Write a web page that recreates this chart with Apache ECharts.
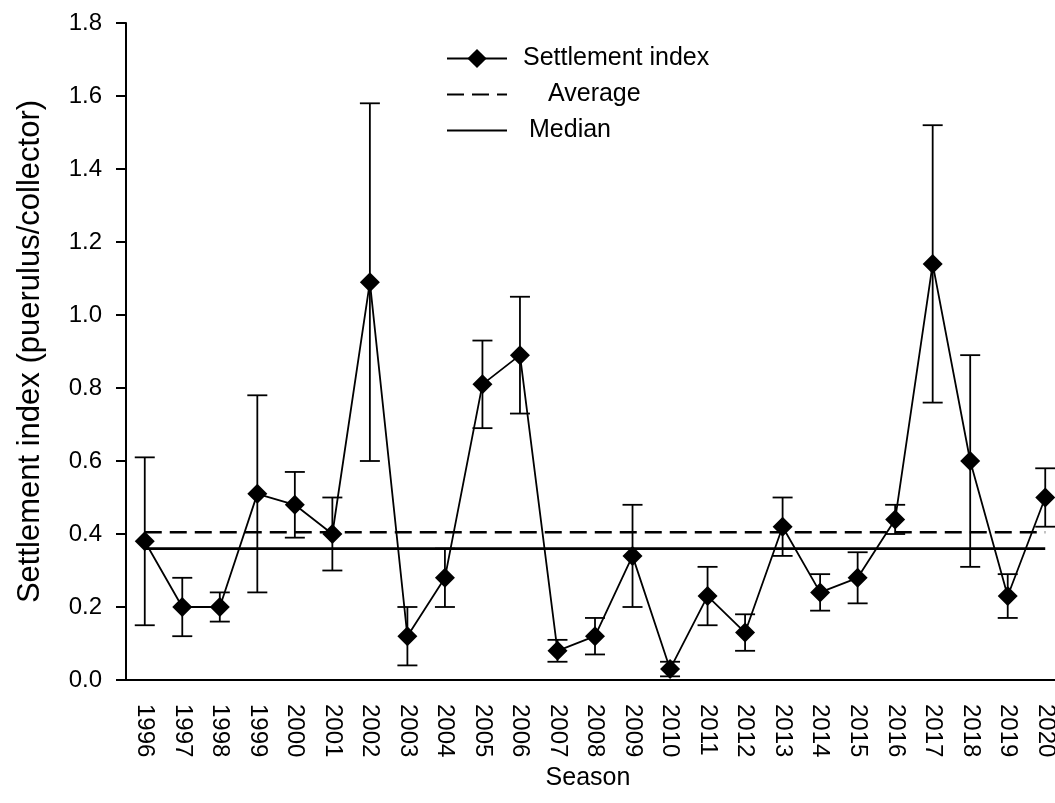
<!DOCTYPE html>
<html>
<head>
<meta charset="utf-8">
<script src="https://cdn.jsdelivr.net/npm/echarts@6/dist/echarts.min.js"></script>
<style>
html,body{margin:0;padding:0;background:#fff;}
#chart{width:1055px;height:803px;}
</style>
</head>
<body>
<div id="chart"></div>
<script>
const categories = ['1996','1997','1998','1999','2000','2001','2002','2003','2004','2005','2006','2007','2008','2009','2010','2011','2012','2013','2014','2015','2016','2017','2018','2019','2020'];
const settlement = [0.38,0.20,0.20,0.51,0.48,0.40,1.09,0.12,0.28,0.81,0.89,0.08,0.12,0.34,0.03,0.23,0.13,0.42,0.24,0.28,0.44,1.14,0.60,0.23,0.50];
const errLow  = [0.15,0.12,0.16,0.24,0.39,0.30,0.60,0.04,0.20,0.69,0.73,0.05,0.07,0.20,0.01,0.15,0.08,0.34,0.19,0.21,0.40,0.76,0.31,0.17,0.42];
const errHigh = [0.61,0.28,0.24,0.78,0.57,0.50,1.58,0.20,0.36,0.93,1.05,0.11,0.17,0.48,0.05,0.31,0.18,0.50,0.29,0.35,0.48,1.52,0.89,0.29,0.58];
const averageValue = 0.405;
const medianValue = 0.36;
const yTicks = [0.0,0.2,0.4,0.6,0.8,1.0,1.2,1.4,1.6,1.8];

const FONT = 'Liberation Sans, Arial, sans-serif';
const chart = echarts.init(document.getElementById('chart'), null, {renderer:'canvas'});

const errData = categories.map((c,i)=>[i, errLow[i], errHigh[i]]);

const option = {
  backgroundColor:'#fff',
  animation:false,
  textStyle:{fontFamily:FONT, color:'#000'},
  grid:{left:126, width:938, top:23, bottom:123, containLabel:false, outerBoundsMode:'none'},
  legend:{
    left:446, top:46, orient:'vertical', itemWidth:60, itemHeight:24, itemGap:11,
    padding:0, selectedMode:false,
    textStyle:{fontFamily:FONT, fontSize:25, color:'#000'},
    data:[
      {name:'Settlement index', textStyle:{padding:[0,0,0,11]}},
      {name:'Average', itemStyle:{opacity:0}, textStyle:{padding:[0,0,0,36]}},
      {name:'Median', itemStyle:{opacity:0}, textStyle:{padding:[0,0,0,17]}}
    ]
  },
  xAxis:{
    type:'category', data:categories, boundaryGap:true,
    name:'Season', nameLocation:'middle', nameGap:74,
    nameTextStyle:{fontFamily:FONT, fontSize:25, color:'#000', padding:[0,14,0,0]},
    axisLine:{lineStyle:{color:'#000', width:2}},
    axisTick:{alignWithLabel:true, length:9, lineStyle:{color:'#000', width:2}},
    axisLabel:{rotate:-90, margin:24, fontSize:24, color:'#000', fontFamily:FONT, interval:0},
    splitLine:{show:false}
  },
  yAxis:{
    type:'value', min:0, max:1.8, interval:0.2,
    name:'Settlement index (puerulus/collector)', nameLocation:'middle', nameGap:80,
    nameTextStyle:{fontFamily:FONT, fontSize:31, color:'#000'},
    axisLine:{show:true, lineStyle:{color:'#000', width:2}},
    axisTick:{show:true, length:10, lineStyle:{color:'#000', width:2}},
    axisLabel:{margin:24, fontSize:24, color:'#000', fontFamily:FONT,
      formatter:v=>{const t=yTicks.find(k=>Math.abs(k-v)<1e-6); return (t!==undefined?t:v).toFixed(1);}},
    splitLine:{show:false}
  },
  series:[
    {
      name:'Average', type:'line', data:categories.map(()=>averageValue),
      symbol:'none', z:2, silent:true,
      lineStyle:{color:'#000', width:2.6, type:[17,8]},
      itemStyle:{color:'#000'}
    },
    {
      name:'Median', type:'line', data:categories.map(()=>medianValue),
      symbol:'none', z:2, silent:true,
      lineStyle:{color:'#000', width:2.6, type:'solid'},
      itemStyle:{color:'#000'}
    },
    {
      name:'errors', type:'custom', z:3, silent:true,
      data:errData,
      renderItem:function(params, api){
        const i = api.value(0);
        const lo = api.coord([i, api.value(1)]);
        const hi = api.coord([i, api.value(2)]);
        const hw = 10;
        const st = {stroke:'#000', lineWidth:1.8};
        return {type:'group', children:[
          {type:'line', shape:{x1:lo[0], y1:lo[1], x2:hi[0], y2:hi[1]}, style:st},
          {type:'line', shape:{x1:hi[0]-hw, y1:hi[1], x2:hi[0]+hw, y2:hi[1]}, style:st},
          {type:'line', shape:{x1:lo[0]-hw, y1:lo[1], x2:lo[0]+hw, y2:lo[1]}, style:st}
        ]};
      }
    },
    {
      name:'Settlement index', type:'line', data:settlement, z:5,
      symbol:'diamond', symbolSize:20,
      lineStyle:{color:'#000', width:1.8},
      itemStyle:{color:'#000', borderWidth:0}
    }
  ]
};
chart.setOption(option);
</script>
</body>
</html>
